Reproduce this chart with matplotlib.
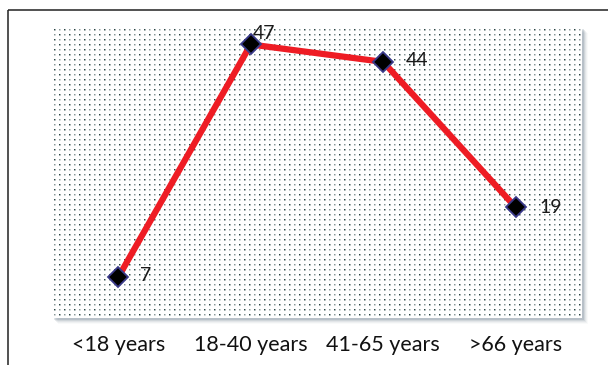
import matplotlib
matplotlib.use("Agg")
import matplotlib.pyplot as plt
import numpy as np
from matplotlib.patches import Rectangle
from matplotlib.lines import Line2D

categories = ["<18 years", "18-40 years", "41-65 years", ">66 years"]
values = [7, 47, 44, 19]
# value-label offsets in points (dx, dy)
label_offsets = [(16, 1), (1.5, 8), (16, 1), (17, 0)]

plt.rcParams['font.family'] = ['Lato', 'DejaVu Sans']

W, H = 608, 365
fig = plt.figure(figsize=(W / 100, H / 100), dpi=100)
L, B, R, T = 52, 318, 582, 27
ax = fig.add_axes([L / W, 1 - B / H, (R - L) / W, (B - T) / H])
ax.set_zorder(2)

# soft drop shadow at the right and bottom of the plot area
for i, a in enumerate([0.16, 0.12, 0.08, 0.05, 0.03]):
    d = i + 1.5
    fig.patches.append(Rectangle(((L + d) / W, 1 - (B + d) / H), (R - L) / W, (B - T) / H,
                                 transform=fig.transFigure, facecolor='#4a6070',
                                 alpha=a, edgecolor='none', zorder=-5))

# dotted fill texture of the plot area
ph, pw = B - T, R - L
rr, cc = np.mgrid[0:ph, 0:pw]
ink = np.zeros((ph, pw))
on = (rr % 5 == 2) & (cc % 5 == 2)
strong = ((rr // 5) + (cc // 5)) % 2 == 0
ink[on & strong] = 1.0
ink[on & ~strong] = 0.55
# slight spread of each dot
soft = ink.copy()
soft[1:, :] += 0.45 * ink[:-1, :]
soft[:, 1:] += 0.45 * ink[:, :-1]
soft[1:, 1:] += 0.25 * ink[:-1, :-1]
soft = np.clip(soft, 0, 1)
dot_rgb = np.array([0.16, 0.26, 0.26])
img = 1 - soft[..., None] * (1 - dot_rgb)
ax.imshow(img, extent=(-0.5, 3.5, 0, 50), aspect='auto',
          interpolation='nearest', zorder=0)

x = list(range(len(categories)))
ax.plot(x, values, color='#ee1c24', lw=4.5, solid_capstyle='round',
        marker='D', markersize=10, markerfacecolor='black',
        markeredgecolor='#3a3a8a', markeredgewidth=1.3, zorder=3)

for xi, v, (dx, dy) in zip(x, values, label_offsets):
    ax.annotate(str(v), (xi, v), xytext=(dx, dy), textcoords='offset points',
                ha='left', va='center', fontsize=14, color='#1a1a1a', zorder=4)

ax.set_xlim(-0.5, len(categories) - 0.5)
ax.set_ylim(0, 50)
ax.set_xticks(x)
ax.set_xticklabels(categories, fontsize=15.5, color='#111111')
ax.set_yticks([])
ax.tick_params(axis='x', length=0, pad=12)
for s in ax.spines.values():
    s.set_visible(False)

# outer frame (top and left edges)
fy = 1 - 10 / H
fx = 8 / W
fig.add_artist(Line2D([fx, fx], [0.0, fy], transform=fig.transFigure,
                      color='#222222', lw=1.1, solid_capstyle='butt'))
fig.add_artist(Line2D([fx, 1.0], [fy, fy], transform=fig.transFigure,
                      color='#222222', lw=1.1, solid_capstyle='butt'))

fig.savefig("out.png", dpi=100)
